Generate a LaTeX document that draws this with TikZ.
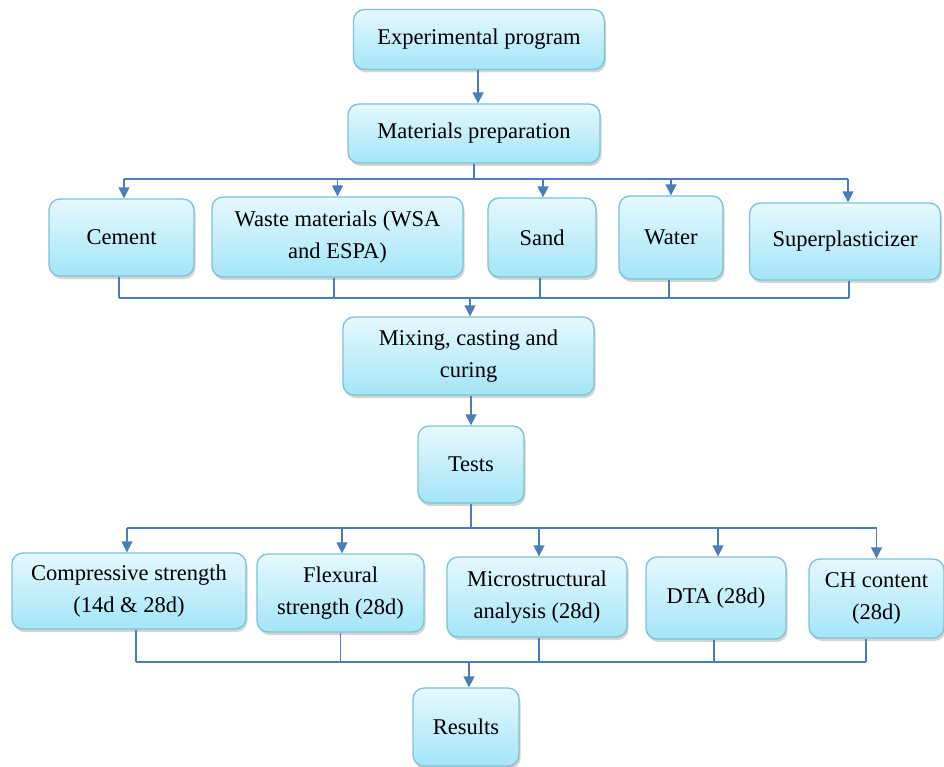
\documentclass[tikz,border=0pt]{standalone}
\usepackage{fontspec}
\setmainfont{Liberation Serif}
\usetikzlibrary{arrows.meta,shadows}
\definecolor{boxtop}{HTML}{E6F8FD}
\definecolor{boxbot}{HTML}{A3E5F8}
\definecolor{boxline}{HTML}{7CC2D6}
\definecolor{connc}{HTML}{4A7EBB}
\tikzset{
  box/.style={draw=boxline, line width=1.3pt, rounded corners=11pt,
    top color=boxtop, bottom color=boxbot, align=center, inner sep=0pt,
    font=\fontsize{22.5}{31.5}\selectfont,
    drop shadow={shadow xshift=1.5pt, shadow yshift=-3pt, opacity=0.28, fill=black!60}},
  conn/.style={draw=connc, line width=1.5pt},
  arr/.style={conn, -{Triangle[width=11pt,length=11pt]}}
}
\begin{document}
\begin{tikzpicture}[x=1pt,y=-1pt]
\useasboundingbox (0,0) rectangle (944,767);
% boxes
\node[box, minimum width=251pt, minimum height=60pt] (exp) at (479,39.5) {Experimental program};
\node[box, minimum width=252pt, minimum height=59pt] (mat) at (474,133.5) {Materials preparation};
\node[box, minimum width=145pt, minimum height=77pt] (cem) at (121.5,237.5) {Cement};
\node[box, minimum width=251pt, minimum height=80pt] (was) at (337.5,237) {Waste materials (WSA\\and ESPA)};
\node[box, minimum width=108pt, minimum height=79pt] (san) at (542,237.5) {Sand};
\node[box, minimum width=104pt, minimum height=83pt] (wat) at (671,237.5) {Water};
\node[box, minimum width=191pt, minimum height=77pt] (sup) at (845,241.5) {Superplasticizer};
\node[box, minimum width=251pt, minimum height=78pt] (mix) at (468.5,356) {Mixing, casting and\\curing};
\node[box, minimum width=106pt, minimum height=77pt] (tes) at (471,464.5) {Tests};
\node[box, minimum width=234pt, minimum height=76pt] (com) at (129,591) {Compressive strength\\(14d \& 28d)};
\node[box, minimum width=167pt, minimum height=78pt] (fle) at (340.5,593) {Flexural\\strength (28d)};
\node[box, minimum width=180pt, minimum height=80pt] (mic) at (537,597) {Microstructural\\analysis (28d)};
\node[box, minimum width=140pt, minimum height=82pt] (dta) at (716,598) {DTA (28d)};
\node[box, minimum width=135pt, minimum height=79pt] (chc) at (876.5,598.5) {CH content\\(28d)};
\node[box, minimum width=106pt, minimum height=78pt] (res) at (466,727) {Results};
% bus coordinates
\coordinate (busA) at (0,179);
\coordinate (busB) at (0,298);
\coordinate (busC) at (0,528);
\coordinate (busD) at (0,662);
% connectors
\draw[arr] (exp.south -| 478,0) -- (478,0 |- mat.north);
\draw[conn] (mat.south) -- (mat.south |- busA);
\draw[conn] ([xshift=2.5pt]cem.north |- busA) -- ([xshift=3pt]sup.north |- busA);
\foreach \n/\s in {cem/2.5,was/0,san/1,wat/0,sup/3}
  \draw[arr] ([xshift=\s pt]\n.north |- busA) -- ([xshift=\s pt]\n.north);
\foreach \n/\s in {cem/-2.5,was/-3.5,san/-2,wat/-2,sup/4}
  \draw[conn] ([xshift=\s pt]\n.south) -- ([xshift=\s pt]\n.south |- busB);
\draw[conn] ([xshift=-2.5pt]cem.south |- busB) -- ([xshift=4pt]sup.south |- busB);
\draw[arr] ([xshift=1.5pt]mix.north |- busB) -- ([xshift=1.5pt]mix.north);
\draw[arr] (mix.south -| tes.north) -- (tes.north);
\draw[conn] (tes.south) -- (tes.south |- busC);
\draw[conn] ([xshift=-2pt]com.north |- busC) -- (chc.north |- busC);
\foreach \n/\s in {com/-2,fle/1.5,mic/2,dta/2,chc/0}
  \draw[arr] ([xshift=\s pt]\n.north |- busC) -- ([xshift=\s pt]\n.north);
\foreach \n/\s in {com/7,fle/0,mic/2,dta/-2,chc/-10.5}
  \draw[conn] ([xshift=\s pt]\n.south) -- ([xshift=\s pt]\n.south |- busD);
\draw[conn] ([xshift=7pt]com.south |- busD) -- ([xshift=-10.5pt]chc.south |- busD);
\draw[arr] ([xshift=3pt]res.north |- busD) -- ([xshift=3pt]res.north);
\end{tikzpicture}
\end{document}
